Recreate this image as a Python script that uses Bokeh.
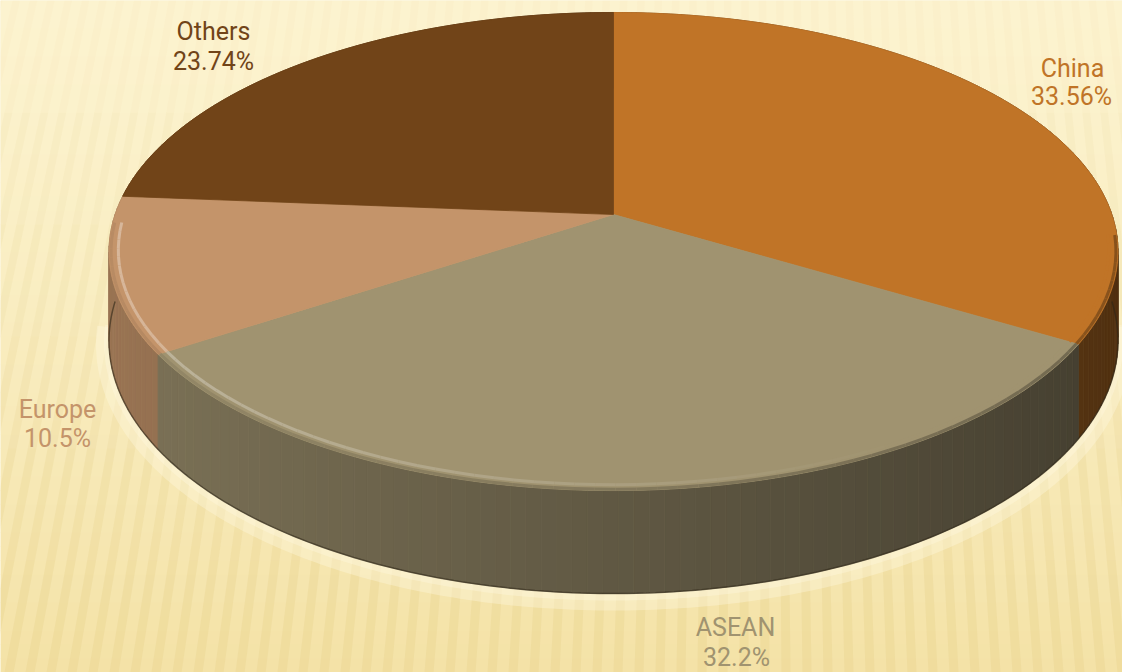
import numpy as np
from bokeh.plotting import figure
from bokeh.models import Range1d
from bokeh.embed import file_html
from bokeh.resources import INLINE
from bokeh.core.properties import value

# ---------------- data ----------------
categories = ["China", "ASEAN", "Europe", "Others"]
shares = [33.56, 32.2, 10.5, 23.74]
share_labels = ["33.56%", "32.2%", "10.5%", "23.74%"]
slice_colors = ["#C07427", "#A09370", "#C4946A", "#714418"]

# ---------------- layout / style ----------------
W, H = 1122, 672
label_name_xy = [(1072, 68), (735, 627), (57, 409), (213, 31)]
label_pct_xy = [(1071, 96), (736, 657), (57, 438), (213, 61)]

# pie geometry (perspective view of a flat cylinder)
CX, CY = 613.0, 214.0        # centre of the top face on the page
SX, SY = 498.4, 233.3        # horizontal / vertical radius scale
K = 0.1549                   # perspective strength
T = 87.0                     # thickness of the cylinder


def hex2rgb(h):
    h = h.lstrip("#")
    return np.array([int(h[i:i + 2], 16) for i in (0, 2, 4)], float)


def rgb2hex(c):
    c = np.clip(np.round(c), 0, 255).astype(int)
    return "#%02x%02x%02x" % tuple(c)


def mix(c1, c2, t):
    return rgb2hex(hex2rgb(c1) * (1 - t) + hex2rgb(c2) * t)


def shade(c, f):
    return rgb2hex(hex2rgb(c) * f)


def proj(theta, r=1.0):
    """angle clockwise from 12 o'clock -> page coords (x, y) and depth factor w"""
    a = r * np.sin(theta)
    b = -r * np.cos(theta)
    w = 1 - K * b
    return CX + SX * a / w, CY + SY * b / w, w


cum = np.concatenate([[0], np.cumsum(shares)]) / sum(shares) * 2 * np.pi

p = figure(width=W, height=H, x_range=Range1d(0, W), y_range=Range1d(H, 0),
           output_backend="svg", toolbar_location=None, min_border=0)
p.axis.visible = False
p.grid.visible = False
p.outline_line_color = None
p.background_fill_color = "#FBF0C6"
p.border_fill_color = "#FBF0C6"

# background: soft gradient with faint converging stripes
nb = 48
ys = np.linspace(0, H, nb + 1)
bg_cols = [mix("#FCF3CF", "#F4E2A6", (i / nb) ** 1.3) for i in range(nb)]
p.quad(left=0, right=W, top=ys[:-1], bottom=ys[1:] + 0.5, fill_color=bg_cols, line_color=None)

V = (750.0, -3200.0)


def xat(x_b, y):
    return x_b + (V[0] - x_b) * (H - y) / (H - V[1])


sxs, sys_, salpha = [], [], []
for xb in np.arange(-500, 1300, 21):
    for k in range(6):
        y0, y1 = H * k / 6, H * (k + 1) / 6
        sxs.append([xat(xb, y0), xat(xb + 9, y0), xat(xb + 9, y1), xat(xb, y1)])
        sys_.append([y0, y0, y1, y1])
        salpha.append(0.05 + 0.04 * k)
p.patches(sxs, sys_, fill_color="#E3CB80", fill_alpha=salpha, line_color=None)

# light halo around the base
thb = np.linspace(np.radians(95), np.radians(265), 200)
xh, yh, wh = proj(thb)
p.line(xh, yh + T / wh + 4, line_color="#FFF9E3", line_alpha=0.35, line_width=26)
p.line(xh, yh + T / wh + 2, line_color="#FFF9E3", line_alpha=0.35, line_width=10)

# side walls
segs = []
for i in range(len(shares)):
    th = np.linspace(cum[i], cum[i + 1], max(3, int((cum[i + 1] - cum[i]) / np.radians(1.5)) + 1))
    for t0, t1 in zip(th[:-1], th[1:]):
        tm = 0.5 * (t0 + t1)
        x0, y0, w0 = proj(t0)
        x1, y1, w1 = proj(t1)
        f = 0.60 - 0.19 * np.sin(tm)
        segs.append((-np.cos(tm), [x0, x1, x1, x0], [y0, y1, y1 + T / w1, y0 + T / w0],
                     shade(slice_colors[i], f)))
segs.sort(key=lambda s: s[0])
p.patches([s[1] for s in segs], [s[2] for s in segs], fill_color=[s[3] for s in segs],
          line_color=[s[3] for s in segs], line_width=0.8)

# dark bottom edge
thb = np.linspace(np.pi / 2, 3 * np.pi / 2, 200)
xb_, yb_, wb_ = proj(thb)
p.line(xb_, yb_ + T / wb_, line_color="#2E2618", line_alpha=0.6, line_width=1.5)

# top faces
for i in range(len(shares)):
    th = np.linspace(cum[i], cum[i + 1], 200)
    x, y, _ = proj(th)
    p.patch(np.concatenate([[CX], x]), np.concatenate([[CY], y]), fill_color=slice_colors[i],
            line_color=slice_colors[i], line_width=0.8)

# bevel: dark outer rim + light highlight just inside the edge
bx, by, bc = [], [], []
rx, ry, rc = [], [], []
for i in range(len(shares)):
    lo, hi = max(cum[i], np.radians(95)), min(cum[i + 1], np.radians(268))
    if hi <= lo:
        continue
    th = np.linspace(lo, hi, max(3, int((hi - lo) / np.radians(2)) + 1))
    for t0, t1 in zip(th[:-1], th[1:]):
        s = np.sin(0.5 * (t0 + t1))
        xa, ya, _ = proj(np.array([t0, t1]), 0.982)
        bx.append(list(xa)); by.append(list(ya))
        bc.append(mix(slice_colors[i], "#FFFFFF", max(0.0, 0.22 * (0.5 - s))))
        xr, yr, _ = proj(np.array([t0, t1]), 0.996)
        rx.append(list(xr)); ry.append(list(yr))
        rc.append(shade(slice_colors[i], 0.82 - 0.12 * s))
p.multi_line(rx, ry, line_color=rc, line_width=3)
p.multi_line(bx, by, line_color=bc, line_width=3)

# labels
font = value("Roboto")
for i in range(len(shares)):
    p.text(x=[label_name_xy[i][0]], y=[label_name_xy[i][1]], text=[categories[i]], text_font=font,
           text_font_size="25px", text_color=slice_colors[i], text_align="center", text_baseline="middle")
    p.text(x=[label_pct_xy[i][0]], y=[label_pct_xy[i][1]], text=[share_labels[i]], text_font=font,
           text_font_size="25px", text_color=slice_colors[i], text_align="center", text_baseline="middle")

open("out.html", "w").write(file_html(p, INLINE))
